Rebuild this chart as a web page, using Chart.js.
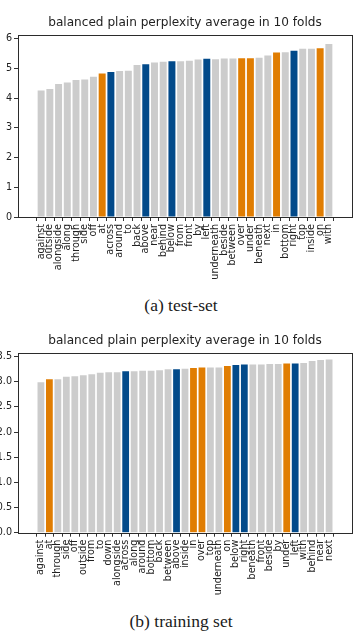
<!DOCTYPE html>
<html>
<head>
<meta charset="utf-8">
<script src="https://cdn.jsdelivr.net/npm/chart.js@4/dist/chart.umd.min.js"></script>
<style>
  body { margin: 0; background: #fff; }
  #page { position: relative; width: 359px; height: 637px; overflow: hidden; background: #fff; }
  canvas { position: absolute; left: 0; }
  .caption { position: absolute; left: 0; width: 362px; text-align: center;
    font-family: "Liberation Serif", "DejaVu Serif", serif; font-size: 17.5px; line-height: 18px; color: #1a1a1a; }
</style>
</head>
<body>
<div id="page">
  <canvas id="chartA" width="359" height="290" style="top:0px"></canvas>
  <div class="caption" style="top:296px">(a) test-set</div>
  <canvas id="chartB" width="359" height="290" style="top:318px"></canvas>
  <div class="caption" style="top:612px">(b) training set</div>
</div>
<script>
// test-set
let testLabels = ["against", "outside", "alongside", "along", "through", "side", "off", "at", "across", "around",
  "to", "back", "above", "near", "behind", "below", "from", "front", "by", "left", "underneath", "beside",
  "between", "over", "under", "beneath", "next", "in", "bottom", "right", "top", "inside", "on", "with"];
let testValues = [4.26, 4.31, 4.48, 4.53, 4.62, 4.63, 4.73, 4.84, 4.89, 4.92,
  4.93, 5.12, 5.15, 5.21, 5.23, 5.25, 5.25, 5.27, 5.31, 5.33, 5.32, 5.34,
  5.34, 5.35, 5.35, 5.37, 5.44, 5.54, 5.55, 5.60, 5.67, 5.67, 5.69, 5.83];
let testTicks = [0, 1, 2, 3, 4, 5, 6];

// training set
let trainLabels = ["against", "at", "through", "side", "off", "outside", "from", "to", "down", "alongside",
  "across", "along", "around", "bottom", "back", "between", "above", "inside", "in", "over", "top",
  "underneath", "on", "below", "right", "beneath", "front", "beside", "by", "under", "left", "with",
  "behind", "near", "next"];
let trainValues = [2.99, 3.05, 3.05, 3.10, 3.11, 3.13, 3.15, 3.18, 3.19, 3.19,
  3.21, 3.21, 3.22, 3.22, 3.23, 3.25, 3.25, 3.26, 3.27, 3.28, 3.28,
  3.28, 3.31, 3.33, 3.34, 3.34, 3.34, 3.35, 3.35, 3.36, 3.36, 3.37,
  3.41, 3.43, 3.44];
let trainTicks = [0, 0.5, 1, 1.5, 2, 2.5, 3, 3.5];

// highlighted groups
let orangeGroup = ["at", "over", "under", "in", "on"];
let blueGroup = ["across", "above", "below", "left", "right"];

let barColor = (name) => {
  if (orangeGroup.includes(name)) return "#e07d02";
  if (blueGroup.includes(name)) return "#024a8a";
  return "#cccccc";
};

// box around the plot like matplotlib spines
let frame = {
  id: "frame",
  afterDraw: function (chart) {
    let a = chart.chartArea;
    let c = chart.ctx;
    c.save();
    c.strokeStyle = "#2b2b2b";
    c.lineWidth = 1;
    c.strokeRect(Math.round(a.left) + 0.5, Math.round(a.top) + 0.5,
      Math.round(a.right - a.left), Math.round(a.bottom - a.top));
    c.restore();
  }
};

let makeChart = (id, labels, values, ticks, yMax, plotBottom, decimals) => {
  let n = labels.length;
  let pad = 0.05 * (n - 1 + 0.8);
  let ctx = document.getElementById(id).getContext("2d");
  let h = ctx.canvas.height;
  return new Chart(ctx, {
    type: "bar",
    data: {
      datasets: [{
        data: values.map((v, i) => ({ x: i, y: v })),
        backgroundColor: labels.map(barColor),
        barPercentage: 0.8,
        categoryPercentage: 1.0
      }]
    },
    plugins: [frame],
    options: {
      responsive: false,
      animation: false,
      layout: { padding: { left: 0, right: 7, top: 0, bottom: 0 } },
      plugins: {
        legend: { display: false },
        tooltip: { enabled: false },
        title: {
          display: true,
          fullSize: false,
          text: "balanced plain perplexity average in 10 folds",
          color: "#222",
          font: { family: "DejaVu Sans", size: 12.1, weight: "normal" },
          padding: { top: 16, bottom: 4 }
        }
      },
      scales: {
        x: {
          type: "linear",
          min: -0.4 - pad,
          max: n - 1 + 0.4 + pad,
          afterBuildTicks: (axis) => { axis.ticks = labels.map((l, i) => ({ value: i })); },
          afterFit: (axis) => { axis.height = h - plotBottom; },
          border: { display: false },
          grid: { display: true, drawOnChartArea: false, drawTicks: true, tickLength: 4, tickColor: "#333" },
          ticks: {
            autoSkip: false,
            minRotation: 90,
            maxRotation: 90,
            padding: 3,
            color: "#222",
            font: { family: "DejaVu Sans", size: 9.6 },
            callback: (v) => labels[v]
          }
        },
        y: {
          min: 0,
          max: yMax,
          afterBuildTicks: (axis) => { axis.ticks = ticks.map((t) => ({ value: t })); },
          afterFit: (axis) => { axis.width = 18; },
          border: { display: false },
          grid: { display: true, drawOnChartArea: false, drawTicks: true, tickLength: 4, tickColor: "#333" },
          ticks: {
            padding: 2,
            color: "#222",
            font: { family: "DejaVu Sans", size: 9.6 },
            callback: (v) => v.toFixed(decimals)
          }
        }
      }
    }
  });
};

makeChart("chartA", testLabels, testValues, testTicks, 6.15, 217, 0);
makeChart("chartB", trainLabels, trainValues, trainTicks, 3.58, 214.7, 1);
</script>
</body>
</html>
